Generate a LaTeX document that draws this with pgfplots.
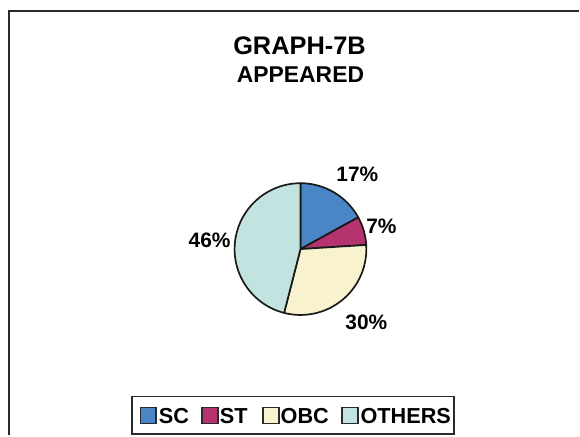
\documentclass[border=0pt]{standalone}
\usepackage{pgfplots}
\pgfplotsset{compat=1.18}
\usepackage{fontspec}
\setmainfont{Liberation Sans}
\definecolor{scblue}{HTML}{4A86C5}
\definecolor{stmag}{HTML}{B5346F}
\definecolor{obccream}{HTML}{F8F2CF}
\definecolor{othteal}{HTML}{C3E3E1}
\definecolor{framegray}{HTML}{2A2A2A}
% slice: start angle, value (percent), colour
\newcommand{\pieslice}[3]{%
  \filldraw[fill=#3, draw=black!90, line width=1.7pt, line join=round]
    (axis cs:301,186.5) -- ++(#1:66bp) arc[start angle=#1, delta angle={-3.6*#2}, radius=66bp] -- cycle;}
\newcommand{\lblfont}{\bfseries\fontsize{21}{24}\selectfont}
\newcommand{\legfont}{\bfseries\fontsize{21.8}{24}\selectfont}
\begin{document}
\begin{tikzpicture}
\begin{axis}[
  width=580bp, height=436bp, scale only axis,
  xmin=0, xmax=580, ymin=0, ymax=436,
  hide axis, clip=false,
]
\path (axis cs:0,0) rectangle (axis cs:580,436);
% frame
\draw[line width=2pt, color=framegray] (axis cs:9,0) -- (axis cs:9,425) -- (axis cs:580,425);
% titles
\node[font=\bfseries\fontsize{25.5}{28}\selectfont] at (axis cs:300,390) {GRAPH-7B};
\node[font=\bfseries\fontsize{23}{26}\selectfont] at (axis cs:301,361) {APPEARED};
% pie: SC 17, ST 7, OBC 30, OTHERS 46 (clockwise from 12 o'clock)
\pieslice{90}{17}{scblue}
\pieslice{28.8}{7}{stmag}
\pieslice{3.6}{30}{obccream}
\pieslice{-104.4}{46}{othteal}
% labels
\node[font=\lblfont] at (axis cs:358,261) {17\%};
\node[font=\lblfont] at (axis cs:382,209) {7\%};
\node[font=\lblfont] at (axis cs:367,113) {30\%};
\node[font=\lblfont] at (axis cs:210,195) {46\%};
% legend
\draw[line width=1.6pt, color=framegray] (axis cs:132,1) rectangle (axis cs:455,39);
\filldraw[fill=scblue, draw=framegray, line width=1.5pt] (axis cs:140.5,12) rectangle (axis cs:156.5,28);
\node[anchor=west, inner sep=0pt, font=\legfont] at (axis cs:159,19.5) {SC};
\filldraw[fill=stmag, draw=framegray, line width=1.5pt] (axis cs:202.5,12) rectangle (axis cs:218.5,28);
\node[anchor=west, inner sep=0pt, font=\legfont] at (axis cs:220,19.5) {ST};
\filldraw[fill=obccream, draw=framegray, line width=1.5pt] (axis cs:263.5,12) rectangle (axis cs:279.5,28);
\node[anchor=west, inner sep=0pt, font=\legfont] at (axis cs:281,19.5) {OBC};
\filldraw[fill=othteal, draw=framegray, line width=1.5pt] (axis cs:342.5,12) rectangle (axis cs:358.5,28);
\node[anchor=west, inner sep=0pt, font=\legfont] at (axis cs:361,19.5) {OTHERS};
\end{axis}
\end{tikzpicture}
\end{document}
